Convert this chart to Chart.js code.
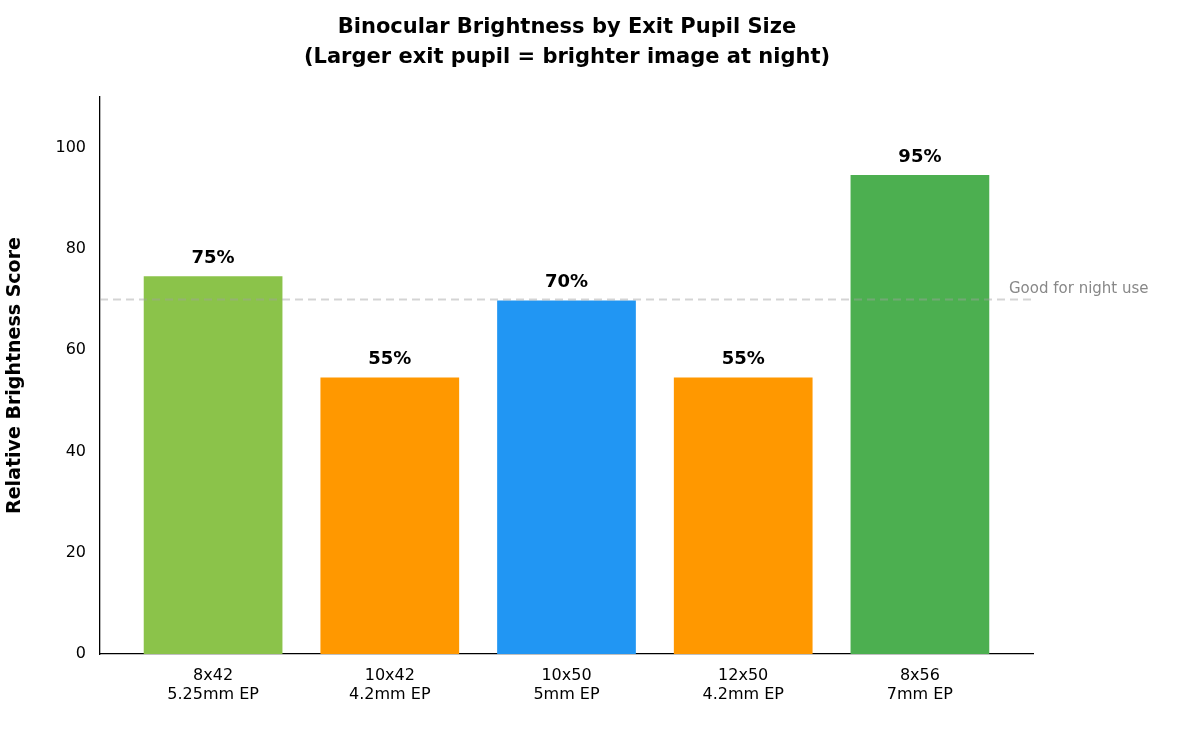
<!DOCTYPE html>
<html><head><meta charset="utf-8">
<script src="https://cdn.jsdelivr.net/npm/chart.js@4"></script>
<style>html,body{margin:0;padding:0;background:#fff}#w{width:1181px;height:734px}</style>
</head><body><div id="w"><canvas id="c" width="1181" height="734"></canvas></div>
<script>
const categories = [["8x42","5.25mm EP"],["10x42","4.2mm EP"],["10x50","5mm EP"],["12x50","4.2mm EP"],["8x56","7mm EP"]];
const values = [74.6, 54.6, 69.8, 54.6, 94.6];
const valueLabels = ["75%","55%","70%","55%","95%"];
const colors = ["#8BC34A","#FF9800","#2196F3","#FF9800","#4CAF50"];
const threshold = 70;
const thresholdLabel = "Good for night use";
const yTicks = [0,20,40,60,80,100];

const F = "'DejaVu Sans', sans-serif";
const extras = {
  id:'extras',
  afterDatasetsDraw(ch){
    const ctx=ch.ctx, x=ch.scales.x, y=ch.scales.y, a=ch.chartArea;
    ctx.save();
    // threshold line
    const ty=y.getPixelForValue(threshold);
    ctx.strokeStyle='rgba(160,160,160,0.45)'; ctx.lineWidth=2; ctx.setLineDash([8,5]);
    ctx.beginPath(); ctx.moveTo(a.left,ty); ctx.lineTo(a.right,ty); ctx.stroke(); ctx.setLineDash([]);
    ctx.fillStyle='#888'; ctx.font='15px '+F; ctx.textAlign='left'; ctx.textBaseline='middle';
    ctx.fillText(thresholdLabel, 1009, ty-10);
    // value labels
    ctx.fillStyle='#000'; ctx.font='bold 18px '+F; ctx.textAlign='center'; ctx.textBaseline='bottom';
    const meta=ch.getDatasetMeta(0);
    meta.data.forEach((b,i)=>ctx.fillText(valueLabels[i], b.x, b.y-9));
    // title
    ctx.font='bold 21px '+F; ctx.textBaseline='middle';
    ctx.fillText('Binocular Brightness by Exit Pupil Size', 567, 28);
    ctx.fillText('(Larger exit pupil = brighter image at night)', 567, 58);
    ctx.restore();
  }
};
new Chart(document.getElementById('c'),{
  type:'bar',
  data:{datasets:[{data:values.map((v,i)=>({x:i,y:v})),backgroundColor:colors,barPercentage:0.785,categoryPercentage:1}]},
  options:{
    responsive:false,animation:false,
    layout:{padding:{top:97,right:148,left:0,bottom:0}},
    plugins:{legend:{display:false},tooltip:{enabled:false}},
    scales:{
      x:{type:'linear',min:-0.64,max:4.64,offset:false,grid:{display:false,drawTicks:true},
        border:{color:'#000',width:1.3},
        afterBuildTicks(s){s.ticks=categories.map((c,i)=>({value:i}));},
        afterFit(s){s.height=80;},
        ticks:{color:'#000',font:{family:F,size:16},padding:4,autoSkip:false,maxRotation:0,callback:(v)=>categories[v]}},
      y:{min:0,max:110,grid:{display:false},border:{color:'#000',width:1.3},
        afterBuildTicks(s){s.ticks=yTicks.map(v=>({value:v}));},
        afterFit(s){s.width=100;},
        title:{display:true,text:'Relative Brightness Score',color:'#000',font:{family:F,size:19,weight:'bold'},padding:{bottom:14}},
        ticks:{color:'#000',font:{family:F,size:16},padding:6}}
    }
  },
  plugins:[extras]
});
</script></body></html>
